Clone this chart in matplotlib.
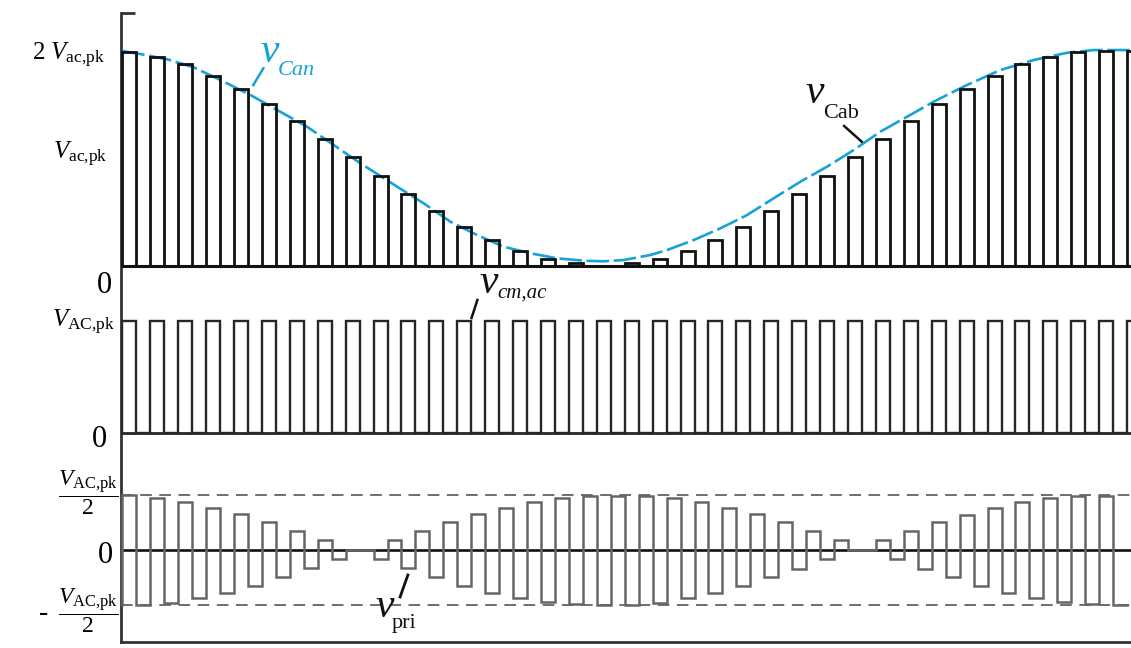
import numpy as np
import matplotlib
matplotlib.use("Agg")
import matplotlib.pyplot as plt

plt.rcParams['font.family'] = ['Liberation Serif', 'DejaVu Serif']
plt.rcParams['mathtext.fontset'] = 'custom'
plt.rcParams['mathtext.rm'] = 'Liberation Serif'
plt.rcParams['mathtext.it'] = 'Liberation Serif:italic'

# --- data (time in switching periods, voltages in units of the peak) ---
# v_Can pulse heights, one per switching period (units of V_ac,pk)
can_pulse = [1.985, 1.941, 1.873, 1.767, 1.643, 1.501, 1.345, 1.178, 1.007,
             0.833, 0.666, 0.505, 0.361, 0.237, 0.138, 0.063, 0.023, 0.0,
             0.021, 0.063, 0.138, 0.237, 0.361, 0.507, 0.666, 0.833, 1.007,
             1.178, 1.345, 1.501, 1.643, 1.767, 1.873, 1.941, 1.985, 2.0, 2.0]

# v_Cab envelope (dashed curve)
env_t = [0.0, 0.645, 1.602, 2.555, 3.511, 4.586, 5.543, 6.618, 7.571, 8.528,
         9.842, 10.795, 11.752, 12.709, 13.662, 14.618, 15.575, 16.528,
         17.245, 17.961, 18.918, 19.516, 20.470, 21.426, 22.383, 23.335,
         24.292, 25.249, 26.203, 27.159, 28.116, 29.068, 30.265, 31.458,
         32.651, 33.848, 34.801, 36.152]
env_v = [1.997, 1.969, 1.920, 1.845, 1.727, 1.588, 1.448, 1.292, 1.122, 0.952,
         0.734, 0.579, 0.408, 0.284, 0.175, 0.114, 0.067, 0.045, 0.039, 0.051,
         0.098, 0.144, 0.237, 0.346, 0.470, 0.626, 0.780, 0.920, 1.075, 1.246,
         1.385, 1.525, 1.681, 1.820, 1.913, 1.981, 2.006, 2.006]

# v_cm,ac pulse heights (units of V_AC,pk)
cm_pulse = [1.0] * 37

# v_pri level for every half period (units of V_AC,pk)
pri_half = [0.500, -0.500, 0.470, -0.479, 0.439, -0.434, 0.385, -0.388,
            0.325, -0.327, 0.255, -0.248, 0.175, -0.166, 0.091, -0.085,
            0.0, 0.0, -0.085, 0.091, -0.166, 0.175, -0.248, 0.255,
            -0.327, 0.325, -0.388, 0.385, -0.434, 0.434, -0.475, 0.470,
            -0.494, 0.491, -0.500, 0.494, -0.497, 0.491, -0.479, 0.470,
            -0.434, 0.434, -0.388, 0.385, -0.325, 0.327, -0.248, 0.252,
            -0.173, 0.175, -0.085, 0.091, 0.0, 0.0, 0.091, -0.085,
            0.175, -0.173, 0.252, -0.248, 0.318, -0.325, 0.385, -0.388,
            0.434, -0.439, 0.470, -0.475, 0.491, -0.494, 0.494, -0.500]

BLUE = '#17a2d5'
DUTY = 0.5
XLIM = (-0.05, 36.14)


def pulse_train(levels):
    xs, ys = [], []
    for k, h in enumerate(levels):
        xs += [k, k, k + DUTY, k + DUTY, k + 1]
        ys += [0, h, h, 0, 0]
    return xs, ys


def half_steps(levels):
    xs, ys = [0], [levels[-1]]
    for j, v in enumerate(levels):
        xs += [j * 0.5, (j + 1) * 0.5]
        ys += [v, v]
    return xs, ys


fig = plt.figure(figsize=(11.31, 6.48), dpi=100)
L = 121 / 1131

# frame shared by the three traces
bg = fig.add_axes([L, 6 / 648, 1 - L, 629 / 648])
bg.set_facecolor('none')
for s in ('top', 'right'):
    bg.spines[s].set_visible(False)
for s in ('left', 'bottom'):
    bg.spines[s].set_color('#333333')
    bg.spines[s].set_linewidth(2.0)
bg.set_xticks([])
bg.set_yticks([])
bg.plot([0, 14 / 1010], [1, 1], transform=bg.transAxes, color='#333333',
        lw=2.0, clip_on=False, solid_capstyle='butt')

ax1 = fig.add_axes([L, 348 / 648, 1 - L, 287 / 648])
ax2 = fig.add_axes([L, 201 / 648, 1 - L, 147 / 648])
ax3 = fig.add_axes([L, 6 / 648, 1 - L, 195 / 648])
for ax in (ax1, ax2, ax3):
    ax.axis('off')
    ax.set_xlim(*XLIM)
ax1.set_ylim(-0.321, 2.351)
ax2.set_ylim(-0.122, 1.184)
ax3.set_ylim(-0.836, 0.936)

# top: v_Can pulses with the v_Cab envelope
ax1.plot(env_t, env_v, color=BLUE, lw=1.9, dashes=(8.5, 1.8), zorder=2)
x, y = pulse_train(can_pulse)
ax1.plot(x, y, color='#111111', lw=2.0, solid_joinstyle='miter', zorder=3)
ax1.axhline(0, color='#111111', lw=2.2, zorder=3)

# middle: v_cm,ac
x, y = pulse_train(cm_pulse)
ax2.plot(x, y, color='#262626', lw=1.7, solid_joinstyle='miter', zorder=3)
ax2.axhline(0, color='#262626', lw=2.0, zorder=3)

# bottom: v_pri
for lvl in (0.5, -0.5):
    ax3.axhline(lvl, color='#555555', lw=1.2, dashes=(7, 4.5), zorder=1)
ax3.axhline(0, color='#111111', lw=1.9, zorder=2)
x, y = half_steps(pri_half)
ax3.plot(x, y, color='#666666', lw=1.8, solid_joinstyle='miter', zorder=3)

# axis labels
lab = dict(ha='right', va='baseline', fontsize=18, clip_on=False)
ax1.text(-0.623, 1.913, r'$2\ V_{\mathrm{ac{,}pk}}$', **lab)
ax1.text(-0.516, 0.992, r'$V_{\mathrm{ac{,}pk}}$', **lab)
ax1.text(-0.373, -0.256, '0', ha='right', va='baseline', fontsize=22)
ax2.text(-0.265, 0.944, r'$V_{\mathrm{AC{,}pk}}$', **lab)
ax2.text(-0.552, -0.122, '0', ha='right', va='baseline', fontsize=22)
frac = r'$\dfrac{V_{\mathrm{AC{,}pk}}}{2}$'
ax3.text(-1.23, 0.52, frac, ha='center', va='center', fontsize=17)
ax3.text(-0.337, -0.118, '0', ha='right', va='baseline', fontsize=22)
ax3.text(-1.23, -0.55, frac, ha='center', va='center', fontsize=17)
ax3.text(-2.84, -0.573, '-', ha='center', va='center', fontsize=20)

# trace names with leader lines
ax1.text(4.93, 1.895, 'v', color=BLUE, style='italic', fontsize=30)
ax1.text(5.575, 1.774, 'Can', color=BLUE, style='italic', fontsize=16)
ax1.plot([4.69, 5.05], [1.680, 1.836], color=BLUE, lw=1.8)

ax1.text(24.46, 1.513, 'v', color='#111111', style='italic', fontsize=30)
ax1.text(25.10, 1.373, 'Cab', color='#111111', fontsize=16)
ax1.plot([25.86, 26.49], [1.299, 1.153], color='#111111', lw=1.8)

ax2.text(12.78, 1.246, 'v', color='#111111', style='italic', fontsize=30)
ax2.text(13.42, 1.202, 'cm,ac', color='#111111', style='italic', fontsize=15)
ax2.plot([12.51, 12.72], [1.024, 1.184], color='#111111', lw=1.8,
         clip_on=False)

ax3.text(9.05, -0.609, 'v', color='#111111', style='italic', fontsize=30)
ax3.text(9.66, -0.709, 'pri', color='#111111', fontsize=16)
ax3.plot([9.95, 10.23], [-0.427, -0.227], color='#111111', lw=2.0)

fig.savefig('out.png', dpi=100)
